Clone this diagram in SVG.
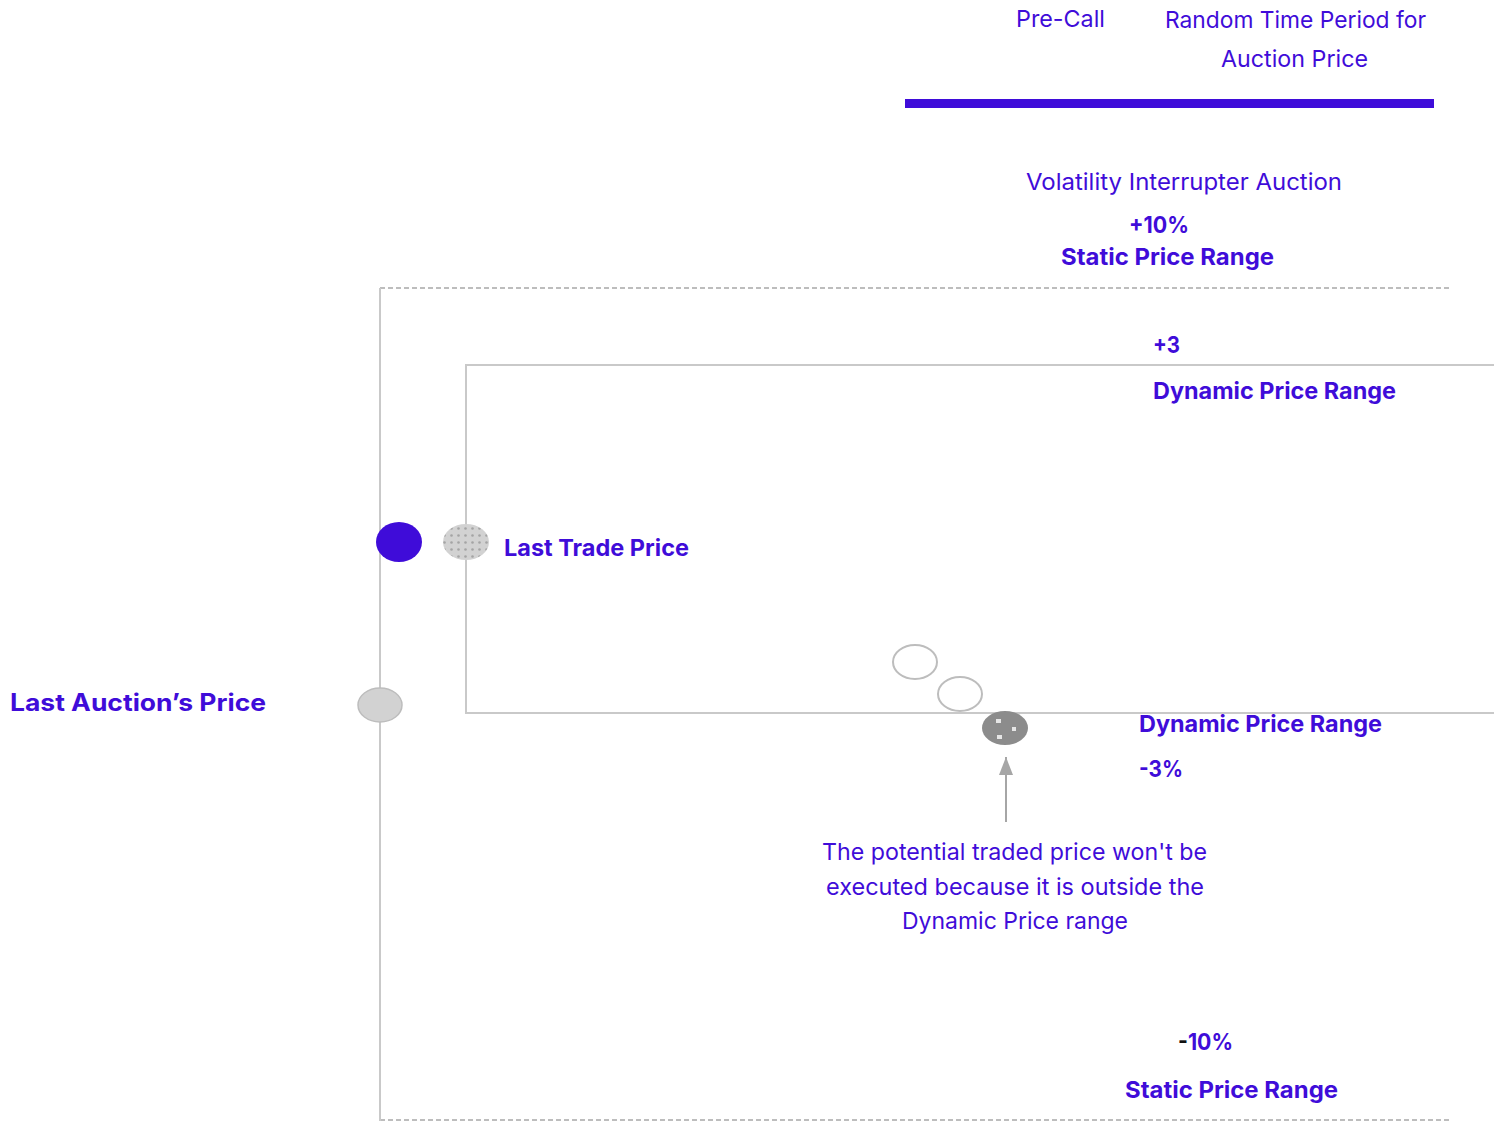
<svg xmlns="http://www.w3.org/2000/svg" width="1499" height="1121" viewBox="0 0 1499 1121">
<style>
text{font-family:Inter,"Noto Sans",sans-serif;fill:#3f0cd9}
.r{font-size:23px;font-weight:400}
.b{font-size:23px;font-weight:700}
.g{stroke:#c9c9c9;stroke-width:2;fill:none}
.d{stroke:#bdbdbd;stroke-width:2;fill:none;stroke-dasharray:5 3}
</style>
<defs>
<pattern id="dots" width="7" height="7" patternUnits="userSpaceOnUse">
<rect width="7" height="7" fill="#d2d2d2"/>
<circle cx="3.5" cy="3.5" r="1.3" fill="#a4a4a4"/>
</pattern>
<marker id="ah" markerWidth="18" markerHeight="14" refX="18" refY="7" orient="auto" markerUnits="userSpaceOnUse" viewBox="0 0 18 14">
<path d="M0,0 L18,7 L0,14 Z" fill="#a6a6a6"/>
</marker>
</defs>
<rect width="1499" height="1121" fill="#fff"/>
<g id="timeline">
<rect x="905" y="99" width="529" height="9" fill="#3f0cd9"/>
<text class="r" x="1016" y="27" textLength="89" lengthAdjust="spacingAndGlyphs">Pre-Call</text>
<text class="r" x="1165" y="28" textLength="261" lengthAdjust="spacingAndGlyphs">Random Time Period for</text>
<text class="r" x="1221" y="67" textLength="147" lengthAdjust="spacingAndGlyphs">Auction Price</text>
<text class="r" x="1026" y="190" textLength="316" lengthAdjust="spacingAndGlyphs">Volatility Interrupter Auction</text>
</g>
<g id="connectors">
<line class="d" x1="380" y1="288" x2="1452" y2="288"/>
<line class="d" x1="380" y1="1120" x2="1452" y2="1120"/>
<line class="g" x1="380" y1="288" x2="380" y2="1121"/>
<polyline class="g" points="1494,365 466,365 466,713 1494,713"/>
<line x1="1006" y1="822" x2="1006" y2="757" stroke="#a6a6a6" stroke-width="2" marker-end="url(#ah)"/>
</g>
<g id="static-top">
<text class="b" x="1129" y="233" textLength="60" lengthAdjust="spacingAndGlyphs">+10%</text>
<text class="b" x="1061" y="265" textLength="213" lengthAdjust="spacingAndGlyphs">Static Price Range</text>
</g>
<g id="dynamic-top">
<text class="b" x="1153" y="353" textLength="27" lengthAdjust="spacingAndGlyphs">+3</text>
<text class="b" x="1153" y="399" textLength="243" lengthAdjust="spacingAndGlyphs">Dynamic Price Range</text>
</g>
<g id="last-trade">
<ellipse cx="399" cy="542" rx="23" ry="20" fill="#3f0cd9"/>
<ellipse cx="466" cy="542" rx="23" ry="18" fill="url(#dots)"/>
<text class="b" x="504" y="556" textLength="185" lengthAdjust="spacingAndGlyphs">Last Trade Price</text>
</g>
<g id="last-auction">
<ellipse cx="380" cy="705" rx="22" ry="17" fill="#d2d2d2" stroke="#bdbdbd" stroke-width="1.5"/>
<text class="b" x="10" y="711" style="font-size:24px" textLength="256" lengthAdjust="spacingAndGlyphs">Last Auction’s Price</text>
</g>
<g id="potential">
<ellipse cx="915" cy="662" rx="22" ry="17" fill="#fff" stroke="#bdbdbd" stroke-width="2"/>
<ellipse cx="960" cy="694" rx="22" ry="17" fill="#fff" stroke="#bdbdbd" stroke-width="2"/>
<ellipse cx="1005" cy="728" rx="23" ry="17" fill="#8c8c8c"/>
<rect x="996" y="719" width="5" height="4" fill="#e6e6e6"/>
<rect x="1012" y="727" width="4" height="4" fill="#e6e6e6"/>
<rect x="997" y="735" width="5" height="4" fill="#e6e6e6"/>
</g>
<g id="dynamic-bottom">
<text class="b" x="1139" y="732" textLength="243" lengthAdjust="spacingAndGlyphs">Dynamic Price Range</text>
<text class="b" x="1139" y="777" textLength="44" lengthAdjust="spacingAndGlyphs">-3%</text>
</g>
<g id="note">
<text class="r" x="822" y="860" textLength="385" lengthAdjust="spacingAndGlyphs">The potential traded price won't be</text>
<text class="r" x="826" y="895" textLength="378" lengthAdjust="spacingAndGlyphs">executed because it is outside the</text>
<text class="r" x="902" y="929" textLength="226" lengthAdjust="spacingAndGlyphs">Dynamic Price range</text>
</g>
<g id="static-bottom">
<text class="b" x="1178" y="1050" textLength="55" lengthAdjust="spacingAndGlyphs"><tspan style="fill:#111">-</tspan>10%</text>
<text class="b" x="1125" y="1098" textLength="213" lengthAdjust="spacingAndGlyphs">Static Price Range</text>
</g>
</svg>
